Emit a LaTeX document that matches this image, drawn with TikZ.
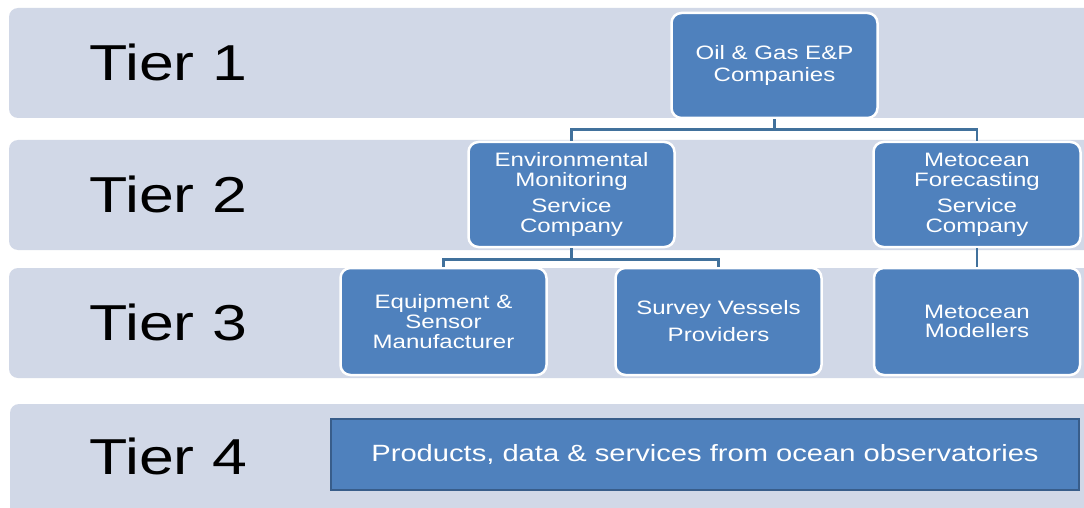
\documentclass[tikz,border=0pt]{standalone}
\usepackage{fontspec}
\setmainfont{Liberation Sans}[FakeStretch=1.24]
\begin{document}
\definecolor{bandbg}{HTML}{D1D8E7}
\definecolor{boxblue}{HTML}{4F81BD}
\definecolor{linkblue}{HTML}{41719C}
\definecolor{edgeblue}{HTML}{385D8A}
\begin{tikzpicture}[x=1pt,y=-1pt,
  band/.style={fill=bandbg, draw=none, rounded corners=9pt},
  tierlabel/.style={anchor=west, inner sep=0pt, font=\fontsize{50.5}{52}\selectfont},
  unit/.style={draw=white, line width=2.5pt, fill=boxblue, rounded corners=10pt,
    text=white, align=center, inner sep=0pt},
  link/.style={draw=linkblue, line width=2.8pt}]
\clip (0,0) rectangle (1084,508);
\fill[white] (0,0) rectangle (1084,508);

% tier bands
\path[band] (9,8) rectangle (1100,118);
\path[band] (9,140) rectangle (1100,250);
\path[band] (9,268) rectangle (1100,378);
\path[band] (10,404) rectangle (1100,530);

% tier labels
\node[tierlabel] (t1) at (89,62) {Tier 1};
\node[tierlabel] (t2) at (89,194) {Tier 2};
\node[tierlabel] (t3) at (89,322) {Tier 3};
\node[tierlabel] (t4) at (89,456) {Tier 4};

% organisation boxes
\node[unit, minimum width=206pt, minimum height=105pt,
  font=\fontsize{19.4}{18.5}\selectfont] (oil) at (774.5,65.5)
  {Oil \& Gas E\&P\\\raisebox{-4pt}{Companies}};
\node[unit, minimum width=206pt, minimum height=105pt,
  font=\fontsize{19.4}{20}\selectfont] (env) at (571.5,194.5)
  {Environmental\\Monitoring\\[6pt]Service\\Company};
\node[unit, minimum width=207pt, minimum height=105pt,
  font=\fontsize{19.4}{20}\selectfont] (met) at (977,194.5)
  {Metocean\\Forecasting\\[6pt]Service\\Company};
\node[unit, minimum width=206pt, minimum height=107pt,
  font=\fontsize{19.4}{20}\selectfont] (equ) at (443.5,321.5)
  {Equipment \&\\Sensor\\Manufacturer};
\node[unit, minimum width=206pt, minimum height=107pt,
  font=\fontsize{19.4}{20}\selectfont] (sur) at (718.5,321.5)
  {Survey Vessels\\[7pt]Providers};
\node[unit, minimum width=206pt, minimum height=107pt,
  font=\fontsize{19.4}{19}\selectfont] (mod) at (977,321.5)
  {Metocean\\Modellers};

% tier 4 box
\node[draw=edgeblue, line width=2pt, fill=boxblue, text=white,
  minimum width=748pt, minimum height=71pt, inner sep=0pt,
  font=\fontsize{23.5}{25}\selectfont] (obs) at (705,454)
  {\raisebox{-6pt}{Products, data \& services from ocean observatories}};

% connectors
\draw[link] (oil.south) -- ++(0,10) -| (env.north);
\draw[link] (oil.south) ++(0,10) -| (met.north);
\draw[link] (env.south) -- ++(0,11) -| (equ.north);
\draw[link] (env.south) ++(0,11) -| (sur.north);
\draw[link] (met.south) -- (mod.north);
\end{tikzpicture}
\end{document}
